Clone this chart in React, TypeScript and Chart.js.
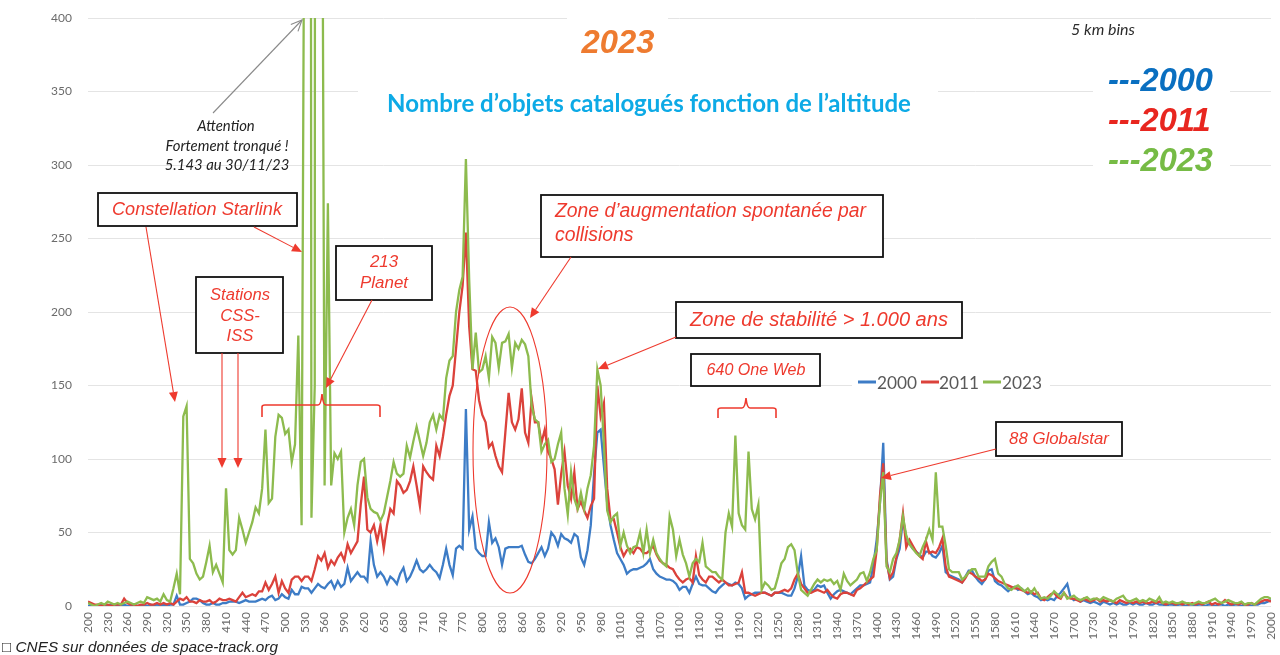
import React, { useEffect, useRef } from "react";
import { Chart, registerables } from "chart.js";

Chart.register(...registerables);

// ---- axes ----
const ALT_MIN = 200;
const ALT_MAX = 2000;
const ALT_BIN = 5;
const X_TICK_STEP = 30;
const Y_MAX = 400;
const Y_TICK_STEP = 50;

// ---- catalogued objects per 5 km altitude bin (200 .. 2000 km) ----
const COUNT_2000 = [
  0, 1, 0, 0, 1, 0, 0, 1, 0, 0, // 200
  0, 1, 0, 0, 1, 0, 0, 1, 0, 1, // 250
  0, 1, 0, 1, 0, 1, 1, 7, 1, 1, // 300
  2, 3, 5, 5, 4, 2, 1, 1, 2, 1, // 350
  1, 2, 2, 3, 3, 3, 2, 3, 4, 3, // 400
  3, 3, 4, 5, 4, 6, 7, 4, 5, 8, // 450
  6, 5, 11, 8, 8, 13, 12, 12, 9, 12, // 500
  15, 13, 12, 15, 17, 12, 17, 13, 15, 26, // 550
  17, 20, 23, 20, 20, 17, 44, 28, 20, 23, // 600
  20, 15, 20, 18, 15, 22, 26, 17, 20, 25, // 650
  31, 25, 23, 25, 28, 25, 23, 19, 28, 39, // 700
  28, 21, 39, 41, 39, 134, 52, 61, 39, 36, // 750
  34, 34, 57, 43, 46, 40, 28, 39, 40, 40, // 800
  40, 40, 41, 35, 30, 29, 32, 36, 40, 34, // 850
  39, 50, 47, 41, 49, 46, 45, 43, 49, 47, // 900
  33, 28, 38, 55, 90, 118, 120, 95, 70, 55, // 950
  45, 36, 32, 28, 22, 24, 25, 25, 26, 27, // 1000
  29, 32, 25, 22, 20, 19, 18, 18, 17, 15, // 1050
  11, 13, 13, 9, 15, 20, 15, 14, 14, 12, // 1100
  10, 9, 12, 14, 16, 15, 14, 16, 15, 12, // 1150
  5, 7, 8, 9, 9, 9, 9, 8, 7, 9, // 1200
  9, 9, 8, 7, 7, 12, 20, 34, 14, 11, // 1250
  10, 11, 14, 13, 14, 9, 5, 8, 10, 11, // 1300
  10, 9, 8, 10, 12, 14, 14, 15, 16, 28, // 1350
  45, 70, 111, 32, 18, 20, 32, 39, 59, 47, // 1400
  42, 39, 37, 35, 33, 37, 37, 34, 33, 36, // 1450
  41, 23, 21, 20, 19, 18, 16, 20, 24, 24, // 1500
  20, 17, 15, 18, 24, 25, 17, 15, 14, 12, // 1550
  10, 12, 13, 11, 12, 10, 8, 9, 7, 6, // 1600
  4, 5, 4, 5, 4, 7, 9, 12, 15, 6, // 1650
  4, 5, 3, 4, 3, 2, 3, 2, 1, 3, // 1700
  2, 1, 2, 1, 2, 1, 1, 2, 1, 2, // 1750
  1, 1, 2, 1, 1, 2, 1, 1, 0, 1, // 1800
  1, 0, 1, 1, 0, 1, 1, 0, 1, 1, // 1850
  0, 1, 1, 0, 1, 1, 0, 1, 0, 1, // 1900
  1, 0, 1, 1, 0, 1, 1, 2, 2, 3, // 1950
  4, // 2000
];

const COUNT_2011 = [
  3, 2, 1, 1, 0, 1, 1, 0, 1, 1, // 200
  1, 5, 2, 1, 1, 0, 1, 1, 2, 1, // 250
  1, 2, 1, 2, 1, 2, 1, 3, 5, 4, // 300
  6, 3, 3, 2, 4, 3, 3, 4, 2, 3, // 350
  5, 4, 4, 5, 4, 3, 6, 9, 6, 7, // 400
  8, 7, 10, 10, 16, 11, 15, 20, 9, 17, // 450
  12, 9, 18, 20, 20, 17, 20, 20, 17, 25, // 500
  34, 31, 36, 26, 31, 28, 33, 36, 31, 42, // 550
  36, 40, 44, 69, 88, 52, 50, 55, 44, 55, // 600
  39, 55, 66, 63, 85, 82, 77, 79, 85, 95, // 650
  82, 68, 95, 91, 88, 86, 109, 102, 115, 130, // 700
  143, 150, 175, 200, 218, 254, 190, 161, 160, 140, // 750
  130, 125, 108, 111, 102, 95, 91, 118, 145, 125, // 800
  120, 127, 148, 118, 111, 141, 125, 125, 111, 120, // 850
  105, 100, 93, 69, 90, 105, 82, 73, 91, 66, // 900
  71, 65, 60, 68, 73, 150, 129, 138, 80, 59, // 950
  59, 50, 40, 34, 38, 39, 36, 40, 39, 36, // 1000
  36, 38, 41, 35, 31, 29, 28, 26, 25, 21, // 1050
  18, 16, 18, 19, 16, 34, 21, 18, 16, 20, // 1100
  20, 18, 16, 18, 16, 14, 14, 15, 16, 23, // 1150
  9, 9, 8, 7, 8, 9, 9, 8, 7, 9, // 1200
  9, 10, 11, 10, 12, 18, 22, 15, 12, 9, // 1250
  9, 10, 11, 10, 9, 11, 8, 6, 5, 8, // 1300
  9, 9, 8, 7, 11, 12, 14, 16, 18, 20, // 1350
  38, 75, 97, 30, 19, 23, 33, 45, 63, 40, // 1400
  45, 41, 37, 34, 32, 44, 36, 37, 36, 40, // 1450
  46, 27, 20, 19, 18, 17, 16, 19, 23, 22, // 1500
  20, 19, 17, 18, 22, 21, 19, 17, 16, 15, // 1550
  14, 13, 12, 12, 11, 10, 9, 10, 8, 9, // 1600
  5, 4, 6, 8, 9, 6, 5, 9, 6, 5, // 1650
  5, 4, 3, 5, 4, 3, 4, 5, 3, 4, // 1700
  3, 4, 3, 2, 4, 3, 2, 3, 2, 3, // 1750
  2, 3, 2, 2, 3, 2, 3, 2, 1, 2, // 1800
  2, 1, 2, 1, 2, 1, 2, 1, 2, 1, // 1850
  2, 3, 1, 2, 1, 2, 4, 2, 1, 2, // 1900
  1, 2, 1, 1, 2, 1, 2, 3, 4, 4, // 1950
  3, // 2000
];

const COUNT_2023 = [
  2, 1, 0, 1, 2, 1, 3, 2, 1, 2, // 200
  1, 2, 3, 2, 1, 2, 3, 2, 6, 5, // 250
  4, 5, 3, 8, 4, 3, 12, 22, 8, 129, // 300
  136, 32, 29, 22, 18, 20, 30, 41, 23, 28, // 350
  22, 16, 80, 38, 35, 38, 60, 52, 43, 50, // 400
  57, 67, 63, 80, 120, 70, 73, 115, 130, 128, // 450
  117, 120, 98, 110, 184, 55, 600, 2500, 60, 150, // 500
  5143, 700, 82, 274, 82, 104, 100, 105, 50, 60, // 550
  66, 55, 82, 98, 100, 74, 66, 64, 63, 58, // 600
  63, 74, 85, 98, 90, 88, 90, 109, 101, 112, // 650
  122, 112, 102, 111, 125, 130, 120, 130, 127, 155, // 700
  167, 170, 200, 215, 224, 304, 222, 161, 186, 159, // 750
  161, 170, 155, 183, 179, 162, 179, 180, 185, 162, // 800
  179, 175, 181, 178, 170, 136, 127, 125, 105, 110, // 850
  113, 98, 100, 110, 118, 80, 62, 91, 73, 66, // 900
  77, 66, 80, 89, 109, 161, 150, 110, 65, 57, // 950
  61, 63, 41, 50, 41, 36, 40, 41, 50, 36, // 1000
  52, 36, 45, 36, 32, 29, 27, 61, 52, 34, // 1050
  45, 35, 29, 20, 29, 32, 30, 43, 27, 25, // 1100
  23, 23, 20, 18, 50, 63, 54, 116, 63, 55, // 1150
  52, 105, 66, 59, 69, 11, 16, 14, 11, 12, // 1200
  20, 29, 32, 40, 42, 38, 22, 11, 9, 7, // 1250
  11, 15, 18, 16, 18, 17, 18, 15, 17, 11, // 1300
  22, 17, 14, 16, 18, 22, 23, 17, 23, 32, // 1350
  38, 70, 91, 27, 23, 32, 36, 45, 61, 48, // 1400
  42, 39, 36, 34, 40, 45, 52, 45, 91, 54, // 1450
  54, 41, 25, 23, 23, 23, 18, 20, 23, 25, // 1500
  25, 20, 20, 20, 27, 30, 32, 22, 20, 15, // 1550
  12, 11, 13, 14, 12, 10, 12, 9, 12, 8, // 1600
  5, 6, 5, 7, 10, 8, 6, 9, 5, 6, // 1650
  7, 5, 4, 5, 6, 4, 5, 5, 4, 6, // 1700
  5, 4, 3, 5, 6, 7, 4, 3, 4, 5, // 1750
  3, 4, 3, 5, 4, 3, 6, 2, 3, 2, // 1800
  3, 2, 2, 3, 2, 2, 1, 2, 3, 2, // 1850
  2, 3, 4, 5, 3, 2, 3, 4, 3, 2, // 1900
  2, 3, 1, 2, 2, 1, 3, 5, 6, 6, // 1950
  5, // 2000
];

const ALTITUDES = COUNT_2000.map((_, i) => ALT_MIN + i * ALT_BIN);

const SERIES_LABELS = ["2000", "2011", "2023"];
const SERIES_VALUES = [COUNT_2000, COUNT_2011, COUNT_2023];
const SERIES_COLORS = ["#3D7CC6", "#DB423B", "#8DBB4E"];

const RED = "#EE3A2E";

type Ctx = CanvasRenderingContext2D;

function fitFont(ctx: Ctx, text: string, style: string, family: string, width: number) {
  ctx.font = `${style} 100px ${family}`;
  const w = ctx.measureText(text).width || 1;
  const size = (100 * width) / w;
  return `${style} ${size.toFixed(2)}px ${family}`;
}

function text(ctx: Ctx, t: string, x: number, y: number, font: string, color: string, align: CanvasTextAlign = "center") {
  ctx.font = font;
  ctx.fillStyle = color;
  ctx.textAlign = align;
  ctx.textBaseline = "middle";
  ctx.fillText(t, x, y);
}

function box(ctx: Ctx, x: number, y: number, w: number, h: number) {
  ctx.fillStyle = "#ffffff";
  ctx.fillRect(x, y, w, h);
  ctx.strokeStyle = "#111111";
  ctx.lineWidth = 1.8;
  ctx.strokeRect(x, y, w, h);
}

function arrow(ctx: Ctx, x1: number, y1: number, x2: number, y2: number, color: string, open = false, head = 10) {
  const ang = Math.atan2(y2 - y1, x2 - x1);
  const bx = x2 - head * Math.cos(ang);
  const by = y2 - head * Math.sin(ang);
  const hw = head * 0.45;
  ctx.strokeStyle = color;
  ctx.fillStyle = color;
  ctx.lineWidth = 1.1;
  ctx.beginPath();
  ctx.moveTo(x1, y1);
  ctx.lineTo(open ? x2 : bx, open ? y2 : by);
  ctx.stroke();
  ctx.beginPath();
  ctx.moveTo(bx + hw * Math.sin(ang), by - hw * Math.cos(ang));
  ctx.lineTo(x2, y2);
  ctx.lineTo(bx - hw * Math.sin(ang), by + hw * Math.cos(ang));
  if (open) {
    ctx.stroke();
  } else {
    ctx.closePath();
    ctx.fill();
  }
}

function brace(ctx: Ctx, x1: number, x2: number, xm: number, yBase: number, yEnd: number, yPeak: number) {
  ctx.strokeStyle = RED;
  ctx.lineWidth = 1.6;
  ctx.beginPath();
  ctx.moveTo(x1, yEnd);
  ctx.lineTo(x1, yBase + 2);
  ctx.quadraticCurveTo(x1, yBase, x1 + 3, yBase);
  ctx.lineTo(xm - 4, yBase);
  ctx.quadraticCurveTo(xm - 1, yBase, xm, yPeak);
  ctx.quadraticCurveTo(xm + 1, yBase, xm + 4, yBase);
  ctx.lineTo(x2 - 3, yBase);
  ctx.quadraticCurveTo(x2, yBase, x2, yBase + 2);
  ctx.lineTo(x2, yEnd);
  ctx.stroke();
}

const annotations = {
  id: "annotations",
  afterDraw(chart: Chart) {
    const ctx = chart.ctx as Ctx;
    ctx.save();

    // white panels behind the headings
    ctx.fillStyle = "#ffffff";
    ctx.fillRect(567, 10, 101, 62);
    ctx.fillRect(358, 78, 580, 44);
    ctx.fillRect(1093, 62, 137, 118);
    ctx.fillRect(852, 371, 198, 23);

    // headings
    const LIB = "'Liberation Sans', Arial, sans-serif";
    const LATO = "Lato, 'Open Sans', sans-serif";
    text(ctx, "2023", 618, 44, fitFont(ctx, "2023", "italic bold", LIB, 73), "#EE7B30");
    text(ctx, "Nombre d\u2019objets catalogu\u00e9s fonction de l\u2019altitude", 649, 104,
      fitFont(ctx, "Nombre d\u2019objets catalogu\u00e9s fonction de l\u2019altitude", "bold", LATO, 524), "#0DAAE6");
    text(ctx, "5 km bins", 1103, 30, fitFont(ctx, "5 km bins", "italic", LATO, 64), "#2b2b2b");

    const bigFont = fitFont(ctx, "---2000", "italic bold", LIB, 105);
    text(ctx, "---2000", 1108, 82, bigFont, "#0A6FC0", "left");
    text(ctx, "---2011", 1108, 122, bigFont, "#E8261F", "left");
    text(ctx, "---2023", 1108, 162, bigFont, "#76BB45", "left");

    // truncation note
    const noteFont = fitFont(ctx, "Fortement tronqu\u00e9 !", "italic", LATO, 123);
    text(ctx, "Attention", 226, 126, noteFont, "#222222");
    text(ctx, "Fortement tronqu\u00e9 !", 227, 146, noteFont, "#222222");
    text(ctx, "5.143 au 30/11/23", 227, 165, noteFont, "#222222");
    arrow(ctx, 213, 113, 302, 20, "#8a8a8a", true, 11);

    // Starlink
    box(ctx, 98, 193, 199, 33);
    text(ctx, "Constellation Starlink", 112, 210,
      fitFont(ctx, "Constellation Starlink", "italic", LIB, 170), RED, "left");
    arrow(ctx, 146, 227, 175, 402, RED);
    arrow(ctx, 254, 227, 302, 252, RED);

    // Stations
    box(ctx, 196, 277, 87, 76);
    const stFont = fitFont(ctx, "Stations", "italic", LIB, 60);
    text(ctx, "Stations", 240, 295, stFont, RED);
    text(ctx, "CSS-", 240, 316, stFont, RED);
    text(ctx, "ISS", 240, 336, stFont, RED);
    arrow(ctx, 222, 353, 222, 468, RED);
    arrow(ctx, 238, 353, 238, 468, RED);

    // Planet
    box(ctx, 336, 246, 96, 54);
    const plFont = fitFont(ctx, "Planet", "italic", LIB, 48);
    text(ctx, "213", 384, 262, plFont, RED);
    text(ctx, "Planet", 384, 283, plFont, RED);
    arrow(ctx, 372, 300, 326, 388, RED);
    brace(ctx, 262, 380, 322, 405, 417, 394);

    // collisions zone
    box(ctx, 541, 195, 342, 62);
    const zFont = fitFont(ctx, "Zone d\u2019augmentation spontan\u00e9e par", "italic", LIB, 311);
    text(ctx, "Zone d\u2019augmentation spontan\u00e9e par", 555, 212, zFont, RED, "left");
    text(ctx, "collisions", 555, 236, zFont, RED, "left");
    arrow(ctx, 571, 257, 530, 318, RED);
    ctx.strokeStyle = RED;
    ctx.lineWidth = 1.1;
    ctx.beginPath();
    ctx.ellipse(510, 450, 37, 143, 0, 0, Math.PI * 2);
    ctx.stroke();

    // stability zone
    box(ctx, 676, 302, 286, 36);
    text(ctx, "Zone de stabilit\u00e9 > 1.000 ans", 819, 320,
      fitFont(ctx, "Zone de stabilit\u00e9 > 1.000 ans", "italic", LIB, 258), RED);
    arrow(ctx, 676, 337, 598, 369, RED);

    // One Web
    box(ctx, 691, 354, 129, 32);
    text(ctx, "640 One Web", 756, 371, fitFont(ctx, "640 One Web", "italic", LIB, 99), RED);
    brace(ctx, 718, 776, 746, 408, 418, 398);

    // Globalstar
    box(ctx, 996, 422, 126, 34);
    text(ctx, "88 Globalstar", 1059, 439, fitFont(ctx, "88 Globalstar", "italic", LIB, 100), RED);
    arrow(ctx, 996, 449, 881, 478, RED);

    // in-plot legend
    const legFont = fitFont(ctx, "2000", "normal", LATO, 40);
    const legItems: [number, number, number][] = [[858, 877, 0], [921, 939, 1], [983, 1002, 2]];
    legItems.forEach(([lx, tx, i]) => {
      ctx.strokeStyle = SERIES_COLORS[i];
      ctx.lineWidth = 3;
      ctx.beginPath();
      ctx.moveTo(lx, 382);
      ctx.lineTo(lx + 18, 382);
      ctx.stroke();
      text(ctx, SERIES_LABELS[i], tx, 383, legFont, "#595959", "left");
    });

    // source
    const src = "\u25A1 CNES sur donn\u00e9es de space-track.org";
    text(ctx, src, 2, 648, fitFont(ctx, src, "italic", LIB, 276), "#222222", "left");

    ctx.restore();
  },
};

export default function App() {
  const ref = useRef<HTMLCanvasElement | null>(null);

  useEffect(() => {
    if (!ref.current) return;
    const chart = new Chart(ref.current, {
      type: "line",
      data: {
        datasets: SERIES_LABELS.map((label, s) => ({
          label,
          data: SERIES_VALUES[s].map((v, i) => ({ x: ALTITUDES[i], y: v })),
          borderColor: SERIES_COLORS[s],
          backgroundColor: SERIES_COLORS[s],
          borderWidth: 2.3,
          pointRadius: 0,
          tension: 0,
          fill: false,
          order: 3 - s,
        })),
      },
      options: {
        responsive: false,
        animation: false,
        layout: { padding: { left: 0, right: 9, top: 18, bottom: 0 } },
        plugins: {
          legend: { display: false },
          tooltip: { enabled: false },
          title: { display: false },
        },
        scales: {
          x: {
            type: "linear",
            min: ALT_MIN,
            max: ALT_MAX,
            grid: { display: false, drawTicks: false },
            border: { display: false },
            ticks: {
              stepSize: X_TICK_STEP,
              autoSkip: false,
              minRotation: 90,
              maxRotation: 90,
              padding: 6,
              color: "#6b6b6b",
              font: { family: "Lato, 'Open Sans', sans-serif", size: 12 },
              callback: (v: any) => String(v),
            },
            afterFit: (scale: any) => {
              scale.height = 49;
              scale.paddingLeft = 0;
              scale.paddingRight = 0;
            },
          },
          y: {
            min: 0,
            max: Y_MAX,
            grid: { color: "#E4E4E4", lineWidth: 1, drawTicks: false },
            border: { display: false },
            ticks: {
              stepSize: Y_TICK_STEP,
              padding: 16,
              color: "#6b6b6b",
              font: { family: "Lato, 'Open Sans', sans-serif", size: 12 },
              callback: (v: any) => String(v),
            },
            afterFit: (scale: any) => {
              scale.width = 88;
              scale.paddingTop = 0;
              scale.paddingBottom = 0;
            },
          },
        },
      },
      plugins: [annotations],
    });
    return () => chart.destroy();
  }, []);

  return (
    <div style={{ position: "absolute", left: 0, top: 0, width: 1280, height: 655, background: "#ffffff" }}>
      <canvas ref={ref} width={1280} height={655} style={{ display: "block", width: 1280, height: 655 }} />
    </div>
  );
}
